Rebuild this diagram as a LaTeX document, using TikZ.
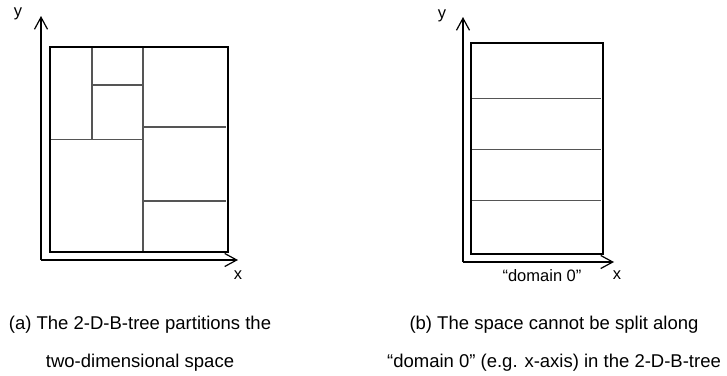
\documentclass[tikz,border=0pt]{standalone}
\usepackage{fontspec}
\setmainfont{Liberation Sans}
\usetikzlibrary{arrows.meta,positioning}
\definecolor{splitgray}{RGB}{85,85,85}

\begin{document}
\begin{tikzpicture}[x=1pt,y=-1pt,>={Straight Barb[length=12pt,width=13pt]},
    axis/.style={->, line width=1.2pt, black},
    region/.style={draw=black, line width=2.8pt},
    split/.style={line width=1.2pt, splitgray},
    lbl/.style={font=\fontsize{16.5}{18}\selectfont, inner sep=0pt},
    caption/.style={font=\fontsize{18.5}{38}\selectfont, align=center, inner sep=0pt}]

    \useasboundingbox (0,0) rectangle (727,375);

    % (a) 2-D-B-tree partitions
    \coordinate (oa) at (41,260);
    \draw[axis] (oa) -- (41,16) coordinate (ya);
    \draw[axis] (oa) -- (238,260) coordinate (xa);
    \node[lbl] (ylabela) at (18,14) {y};
    \node[lbl] (xlabela) at (238,275) {x};

    \draw[split] (143,47) -- (143,252);
    \draw[split] (50,139.5) -- (143,139.5);
    \draw[split] (92,47) -- (92,139.5);
    \draw[split] (92,85) -- (143,85);
    \draw[split] (143,127) -- (226,127);
    \draw[split] (143,201) -- (226,201);
    \draw[region] (50,47) rectangle (228,252);

    % (b) splits along domain 1 only
    \coordinate (ob) at (463,262);
    \draw[axis] (ob) -- (463,17) coordinate (yb);
    \draw[axis] (ob) -- (614,262) coordinate (xb);
    \node[lbl] (ylabelb) at (442,16) {y};
    \node[lbl] (xlabelb) at (617,275) {x};
    \node[lbl] (domain) at (542,276) {“domain 0”};

    \foreach \y in {98.5,149.5,200.5}
        \draw[split] (471,\y) -- (601,\y);
    \draw[region] (471,43) rectangle (603,254);

    % Captions
    \node[caption] (capa) at (140,344) {(a) The 2-D-B-tree partitions the\\two-dimensional space};
    \node[caption] (capb) at (554,344) {(b) The space cannot be split along\\“domain 0” (e.g. x-axis) in the 2-D-B-tree};

\end{tikzpicture}
\end{document}
